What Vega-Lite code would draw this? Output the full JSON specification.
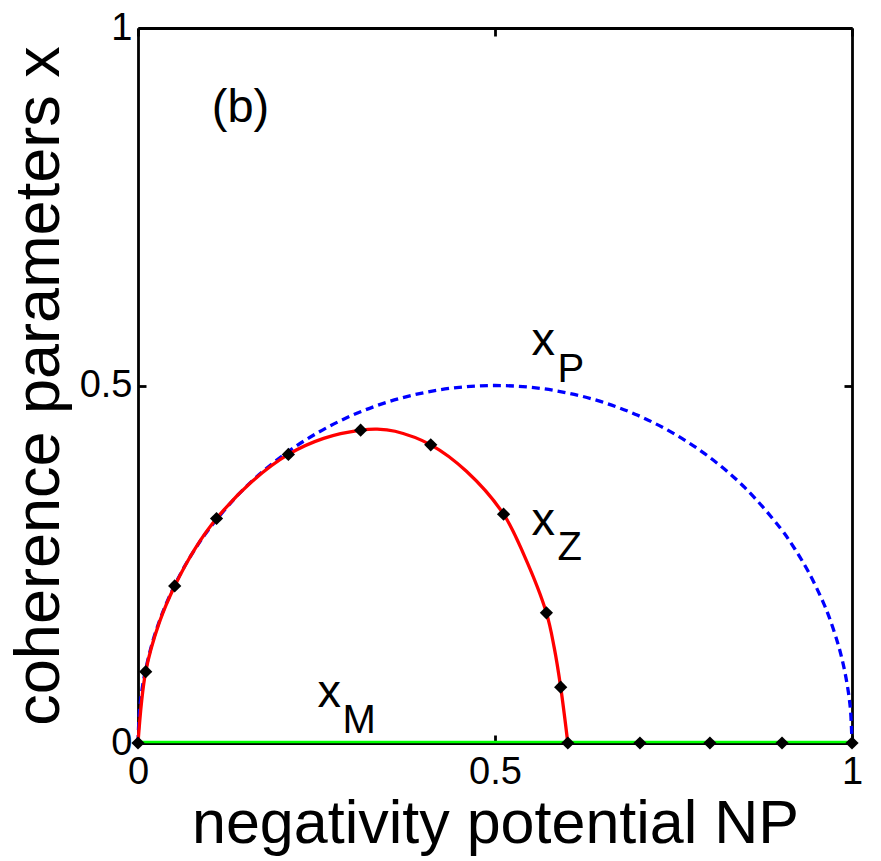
{
  "$schema": "https://vega.github.io/schema/vega-lite/v6.json",
  "width": 714,
  "height": 715,
  "autosize": {"type": "none"},
  "padding": {"left": 138, "top": 28, "right": 29, "bottom": 118},
  "background": "white",
  "config": {
    "view": {"stroke": null},
    "axis": {
      "domainColor": "black", "domainWidth": 2.8, "tickColor": "black", "tickWidth": 2.8,
      "grid": false, "labelFont": "Liberation Sans", "labelFontSize": 38, "labelColor": "black",
      "titleFont": "Liberation Sans", "titleFontSize": 61, "titleFontWeight": "normal", "titleColor": "black"
    }
  },
  "datasets": {
    "xM": [{"NP": 0, "v": 0}, {"NP": 1, "v": 0}],
    "xP": [
      {"NP": 0, "v": 0}, {"NP": 0.002, "v": 0.0447}, {"NP": 0.005, "v": 0.0705}, {"NP": 0.01, "v": 0.0995},
      {"NP": 0.02, "v": 0.14}, {"NP": 0.03, "v": 0.1706}, {"NP": 0.04, "v": 0.196}, {"NP": 0.06, "v": 0.2375},
      {"NP": 0.08, "v": 0.2713}, {"NP": 0.1, "v": 0.3}, {"NP": 0.15, "v": 0.3571}, {"NP": 0.2, "v": 0.4},
      {"NP": 0.25, "v": 0.433}, {"NP": 0.3, "v": 0.4583}, {"NP": 0.35, "v": 0.477}, {"NP": 0.4, "v": 0.4899},
      {"NP": 0.45, "v": 0.4975}, {"NP": 0.5, "v": 0.5}, {"NP": 0.55, "v": 0.4975}, {"NP": 0.6, "v": 0.4899},
      {"NP": 0.65, "v": 0.477}, {"NP": 0.7, "v": 0.4583}, {"NP": 0.75, "v": 0.433}, {"NP": 0.8, "v": 0.4},
      {"NP": 0.85, "v": 0.3571}, {"NP": 0.9, "v": 0.3}, {"NP": 0.92, "v": 0.2713}, {"NP": 0.94, "v": 0.2375},
      {"NP": 0.96, "v": 0.196}, {"NP": 0.97, "v": 0.1706}, {"NP": 0.98, "v": 0.14}, {"NP": 0.985, "v": 0.1216},
      {"NP": 0.99, "v": 0.0995}, {"NP": 0.995, "v": 0.0705}, {"NP": 0.998, "v": 0.0447}, {"NP": 1, "v": 0}
    ],
    "xZ": [
      {"NP": 0, "v": 0}, {"NP": 0.0108, "v": 0.0998}, {"NP": 0.03, "v": 0.169}, {"NP": 0.0514, "v": 0.2197},
      {"NP": 0.08, "v": 0.272}, {"NP": 0.11, "v": 0.314}, {"NP": 0.16, "v": 0.366}, {"NP": 0.2106, "v": 0.4036},
      {"NP": 0.26, "v": 0.426}, {"NP": 0.3118, "v": 0.4375}, {"NP": 0.335, "v": 0.439}, {"NP": 0.36, "v": 0.436},
      {"NP": 0.41, "v": 0.417}, {"NP": 0.46, "v": 0.38}, {"NP": 0.512, "v": 0.32}, {"NP": 0.541, "v": 0.262},
      {"NP": 0.572, "v": 0.182}, {"NP": 0.583, "v": 0.133}, {"NP": 0.592, "v": 0.078}, {"NP": 0.602, "v": 0}
    ],
    "markers": [
      {"NP": 0, "v": 0}, {"NP": 0.0108, "v": 0.0998}, {"NP": 0.0514, "v": 0.2197}, {"NP": 0.11, "v": 0.314},
      {"NP": 0.2106, "v": 0.4036}, {"NP": 0.3118, "v": 0.4375}, {"NP": 0.41, "v": 0.417}, {"NP": 0.512, "v": 0.32},
      {"NP": 0.572, "v": 0.182}, {"NP": 0.592, "v": 0.078}, {"NP": 0.602, "v": 0}, {"NP": 0.703, "v": 0},
      {"NP": 0.801, "v": 0}, {"NP": 0.902, "v": 0}, {"NP": 1, "v": 0}
    ],
    "labels": [
      {"NP": 0.1034, "v": 0.868, "t": "(b)"},
      {"NP": 0.551, "v": 0.543, "t": "x"},
      {"NP": 0.551, "v": 0.291, "t": "x"},
      {"NP": 0.2513, "v": 0.0508, "t": "x"}
    ],
    "subs": [
      {"NP": 0.5875, "v": 0.505, "t": "P"},
      {"NP": 0.5875, "v": 0.256, "t": "Z"},
      {"NP": 0.2865, "v": 0.0144, "t": "M"}
    ]
  },
  "layer": [
    {
      "data": {"name": "xM"},
      "mark": {"type": "line", "color": "#00ff00", "strokeWidth": 2.5, "yOffset": -1},
      "encoding": {
        "x": {"field": "NP", "type": "quantitative", "scale": {"domain": [0, 1], "nice": false},
          "axis": {"orient": "bottom", "values": [0, 0.5, 1], "format": "~g", "tickSize": -8, "labelPadding": 18,
            "labelFlush": false, "labelAlign": "center", "labelBaseline": "top", "title": "negativity potential NP", "titlePadding": 3}},
        "y": {"field": "v", "type": "quantitative", "scale": {"domain": [0, 1], "nice": false},
          "axis": {"orient": "left", "values": [0, 0.5, 1], "format": "~g", "tickSize": -8, "labelPadding": 14,
            "labelFlush": false, "labelAlign": "right", "labelBaseline": "middle", "title": "coherence parameters x", "titleFontSize": 63, "titlePadding": 8}}
      }
    },
    {
      "data": {"name": "xP"},
      "mark": {"type": "line", "color": "#0000ff", "strokeWidth": 3.3, "strokeDash": [8, 5], "interpolate": "catmull-rom"},
      "encoding": {
        "x": {"field": "NP", "type": "quantitative", "scale": {"domain": [0, 1], "nice": false},
          "axis": {"orient": "top", "values": [0, 0.5, 1], "tickSize": -8, "labels": false, "title": null}},
        "y": {"field": "v", "type": "quantitative", "scale": {"domain": [0, 1], "nice": false},
          "axis": {"orient": "right", "values": [0, 0.5, 1], "tickSize": -8, "labels": false, "title": null}}
      }
    },
    {
      "data": {"name": "xZ"},
      "mark": {"type": "line", "color": "#ff0000", "strokeWidth": 3.3, "interpolate": "catmull-rom"},
      "encoding": {
        "x": {"field": "NP", "type": "quantitative", "axis": null},
        "y": {"field": "v", "type": "quantitative", "axis": null}
      }
    },
    {
      "data": {"name": "markers"},
      "mark": {"type": "point", "shape": "diamond", "filled": true, "color": "black", "size": 175, "opacity": 1},
      "encoding": {
        "x": {"field": "NP", "type": "quantitative", "axis": null},
        "y": {"field": "v", "type": "quantitative", "axis": null}
      }
    },
    {
      "data": {"name": "labels"},
      "mark": {"type": "text", "font": "Liberation Sans", "fontSize": 47, "align": "left", "baseline": "alphabetic", "color": "black"},
      "encoding": {
        "x": {"field": "NP", "type": "quantitative", "axis": null},
        "y": {"field": "v", "type": "quantitative", "axis": null},
        "text": {"field": "t"}
      }
    },
    {
      "data": {"name": "subs"},
      "mark": {"type": "text", "font": "Liberation Sans", "fontSize": 40, "align": "left", "baseline": "alphabetic", "color": "black"},
      "encoding": {
        "x": {"field": "NP", "type": "quantitative", "axis": null},
        "y": {"field": "v", "type": "quantitative", "axis": null},
        "text": {"field": "t"}
      }
    }
  ],
  "resolve": {"axis": {"x": "independent", "y": "independent"}}
}
